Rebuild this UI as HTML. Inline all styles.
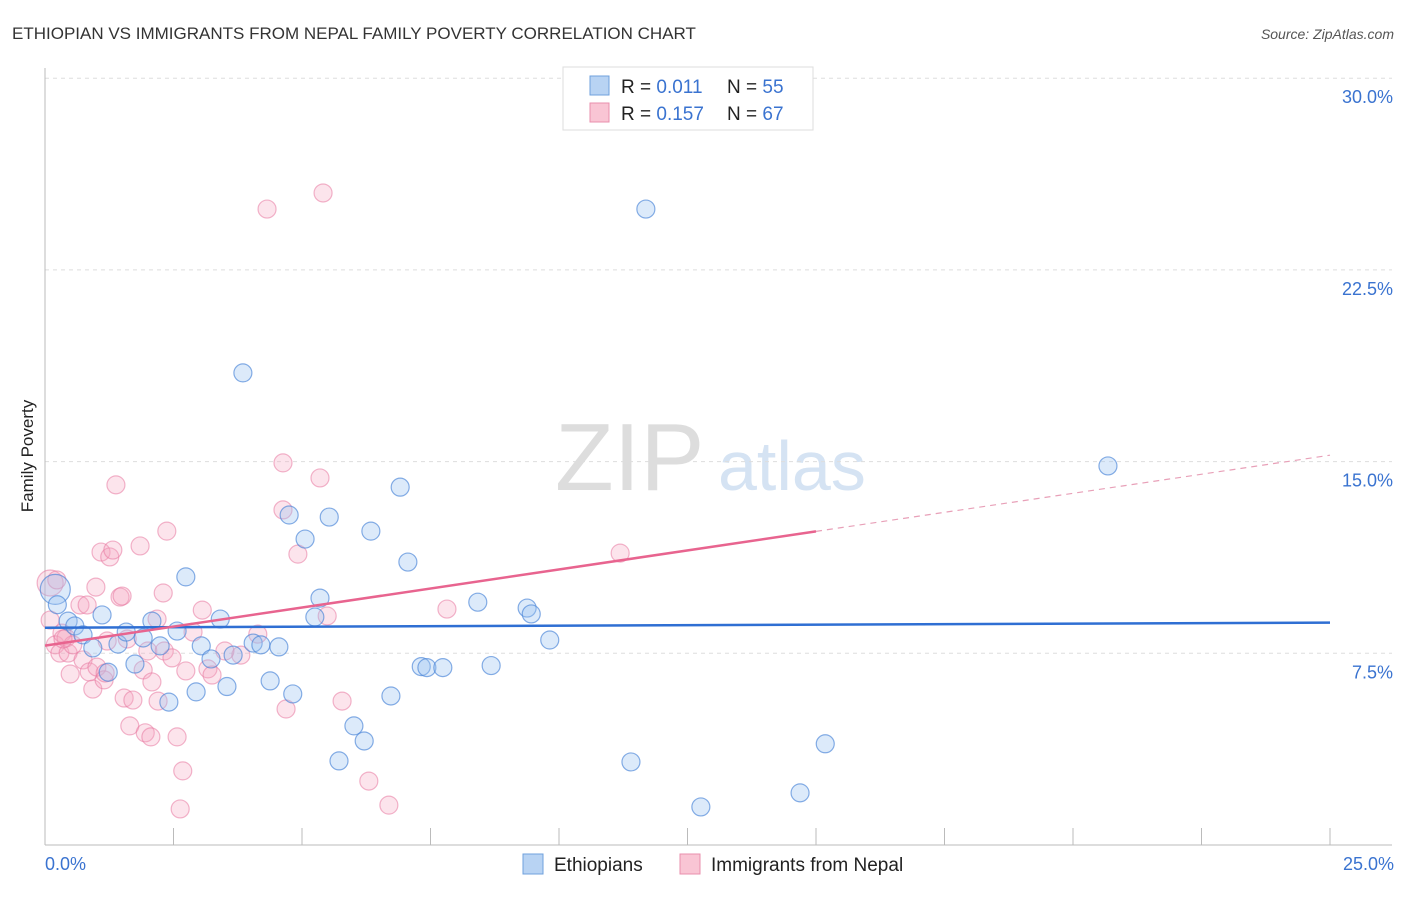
<!DOCTYPE html>
<html><head><meta charset="utf-8"><style>
body{margin:0;background:#fff;font-family:"Liberation Sans",sans-serif;}
svg text{font-family:"Liberation Sans",sans-serif;}
</style></head><body>
<svg id="chart" width="1406" height="892">
<text x="12" y="39" font-size="17" fill="#333">ETHIOPIAN VS IMMIGRANTS FROM NEPAL FAMILY POVERTY CORRELATION CHART</text>
<text x="1394" y="39" font-size="14" fill="#555" text-anchor="end" font-style="italic">Source: ZipAtlas.com</text>
<text x="33" y="456" font-size="17" fill="#222" text-anchor="middle" transform="rotate(-90 33 456)">Family Poverty</text>
<text x="555" y="490" font-size="96" fill="#ddd" font-family="Liberation Serif">ZIP</text>
<text x="718" y="490" font-size="70" fill="#d5e3f3">atlas</text>
<g id="grid"></g><g id="axes"></g>
<g id="pts"></g><g id="trend"></g>
<g>
<rect x="563" y="67" width="250" height="63" fill="#fff" stroke="#ddd"/>
<rect x="590" y="76" width="19" height="19" fill="#b8d3f3" stroke="#6fa0dd"/>
<rect x="590" y="103" width="19" height="19" fill="#f9c5d4" stroke="#e98fad"/>
<text x="621" y="93" font-size="19" fill="#222">R = <tspan fill="#3a73d0">0.011</tspan></text>
<text x="727" y="93" font-size="19" fill="#222">N = <tspan fill="#3a73d0">55</tspan></text>
<text x="621" y="120" font-size="19" fill="#222">R = <tspan fill="#3a73d0">0.157</tspan></text>
<text x="727" y="120" font-size="19" fill="#222">N = <tspan fill="#3a73d0">67</tspan></text>
</g>
<g>
<rect x="523" y="854" width="20" height="20" fill="#b8d3f3" stroke="#6fa0dd"/>
<text x="554" y="871" font-size="19" fill="#222">Ethiopians</text>
<rect x="680" y="854" width="20" height="20" fill="#f9c5d4" stroke="#e98fad"/>
<text x="711" y="871" font-size="19" fill="#222">Immigrants from Nepal</text>
</g>
</svg>
<script>
const yTicks=[7.5,15,22.5,30];
const xTickLabels=["0.0%","25.0%"];
const ethX=[0.2,0.24,0.45,0.58,0.74,0.93,1.11,1.23,1.42,1.58,1.75,1.91,2.08,2.24,2.41,2.57,2.74,2.94,3.04,3.23,3.41,3.54,3.66,3.85,4.05,4.2,4.38,4.55,4.75,4.82,5.06,5.25,5.35,5.53,5.72,6.01,6.21,6.34,6.73,6.91,7.06,7.32,7.43,7.74,8.42,8.68,9.38,9.46,9.82,11.4,11.69,12.76,14.69,15.18,20.68];
const ethY=[10.0,9.4,8.76,8.57,8.22,7.71,9.0,6.76,7.86,8.33,7.08,8.1,8.76,7.79,5.59,8.37,10.49,5.99,7.79,7.28,8.84,6.2,7.43,18.47,7.9,7.83,6.42,7.75,12.91,5.91,11.97,8.92,9.66,12.83,3.29,4.66,4.07,12.28,5.83,14.0,11.07,6.98,6.94,6.94,9.5,7.02,9.27,9.04,8.02,3.25,24.88,1.49,2.04,3.96,14.83];
const nepX=[0.1,0.1,0.2,0.29,0.33,0.41,0.45,0.49,0.54,0.68,0.74,0.82,0.86,0.93,0.99,1.01,1.09,1.15,1.21,1.26,1.32,1.38,1.46,1.5,1.54,1.6,1.65,1.71,1.85,1.91,1.95,2.0,2.06,2.08,2.18,2.2,2.3,2.32,2.37,2.47,2.57,2.68,2.63,2.74,2.88,3.06,3.17,3.25,3.81,4.14,4.32,4.63,4.69,4.63,4.92,5.35,5.41,5.49,5.78,6.3,6.69,7.82,11.19,0.23,0.35,1.17,3.5];
const nepY=[10.25,8.8,7.83,7.51,8.29,8.1,7.51,6.69,7.83,9.39,7.24,9.39,6.77,6.1,10.09,6.96,11.46,6.46,7.98,11.27,11.54,14.09,9.7,9.74,5.75,8.06,4.66,5.67,11.7,6.85,4.39,7.59,4.23,6.38,8.84,5.63,9.86,7.59,12.28,7.32,4.23,2.9,1.41,6.81,8.33,9.19,6.89,6.65,7.43,8.25,24.88,14.95,5.32,13.11,11.38,14.36,25.51,8.96,5.63,2.5,1.56,9.23,11.42,10.37,8.06,6.73,7.59];
const trendEth=[8.5,8.7];
const trendNep=[7.8,15.25];
const solidNepEnd=15.0;
const X=v=>45+v*51.4, Y=v=>845-v*25.56;
const ns="http://www.w3.org/2000/svg";
function mk(t,a,p){const e=document.createElementNS(ns,t);for(const k in a)e.setAttribute(k,a[k]);p.appendChild(e);return e;}
const grid=document.getElementById('grid'),axes=document.getElementById('axes');
yTicks.forEach(v=>{
 const l=mk('line',{x1:45,x2:1392,y1:Y(v),y2:Y(v),stroke:'#ddd','stroke-dasharray':'4,4'},grid);
 
 
 const t=mk('text',{x:1393,y:Y(v)+25,'font-size':18,fill:'#3a73d0','text-anchor':'end'},axes);
 t.textContent=v.toFixed(1)+'%';
 
 
});
mk('line',{x1:45,x2:45,y1:68,y2:845,stroke:'#bbb'},axes);
mk('line',{x1:45,x2:1392,y1:845,y2:845,stroke:'#bbb'},axes);
for(let i=1;i<=10;i++){const x=X(i*2.5);mk('line',{x1:x,x2:x,y1:828,y2:845,stroke:'#bbb'},axes);}
[[0,'start'],[25,'end']].forEach((d,i)=>{const t=mk('text',{x:i?1394:45,y:870,'font-size':18,fill:'#3a73d0','text-anchor':d[1]},axes);t.textContent=xTickLabels[i];
 
 });
const pts=document.getElementById('pts');
nepX.forEach((v,i)=>{const c=mk('circle',{cx:X(v),cy:Y(nepY[i]),r:i==0?13:9,fill:'rgba(245,165,192,0.3)',stroke:'rgba(232,120,160,0.55)','stroke-width':1.2},pts);
 
 });
ethX.forEach((v,i)=>{const c=mk('circle',{cx:X(v),cy:Y(ethY[i]),r:i==0?15:9,fill:'rgba(155,195,240,0.35)',stroke:'rgba(70,130,215,0.65)','stroke-width':1.2},pts);
 
 });
const tr=document.getElementById('trend');
const nAt=x=>trendNep[0]+(trendNep[1]-trendNep[0])*x/25;
const l1=mk('line',{x1:X(0),y1:Y(trendEth[0]),x2:X(25),y2:Y(trendEth[1]),stroke:'#2f6fd3','stroke-width':2.5},tr);


const l2=mk('line',{x1:X(0),y1:Y(nAt(0)),x2:X(solidNepEnd),y2:Y(nAt(solidNepEnd)),stroke:'#e8648f','stroke-width':2.5},tr);


const l3=mk('line',{x1:X(solidNepEnd),y1:Y(nAt(solidNepEnd)),x2:X(25),y2:Y(nAt(25)),stroke:'#e8a0b8','stroke-width':1.2,'stroke-dasharray':'6,5'},tr);


</script>
</body></html>
